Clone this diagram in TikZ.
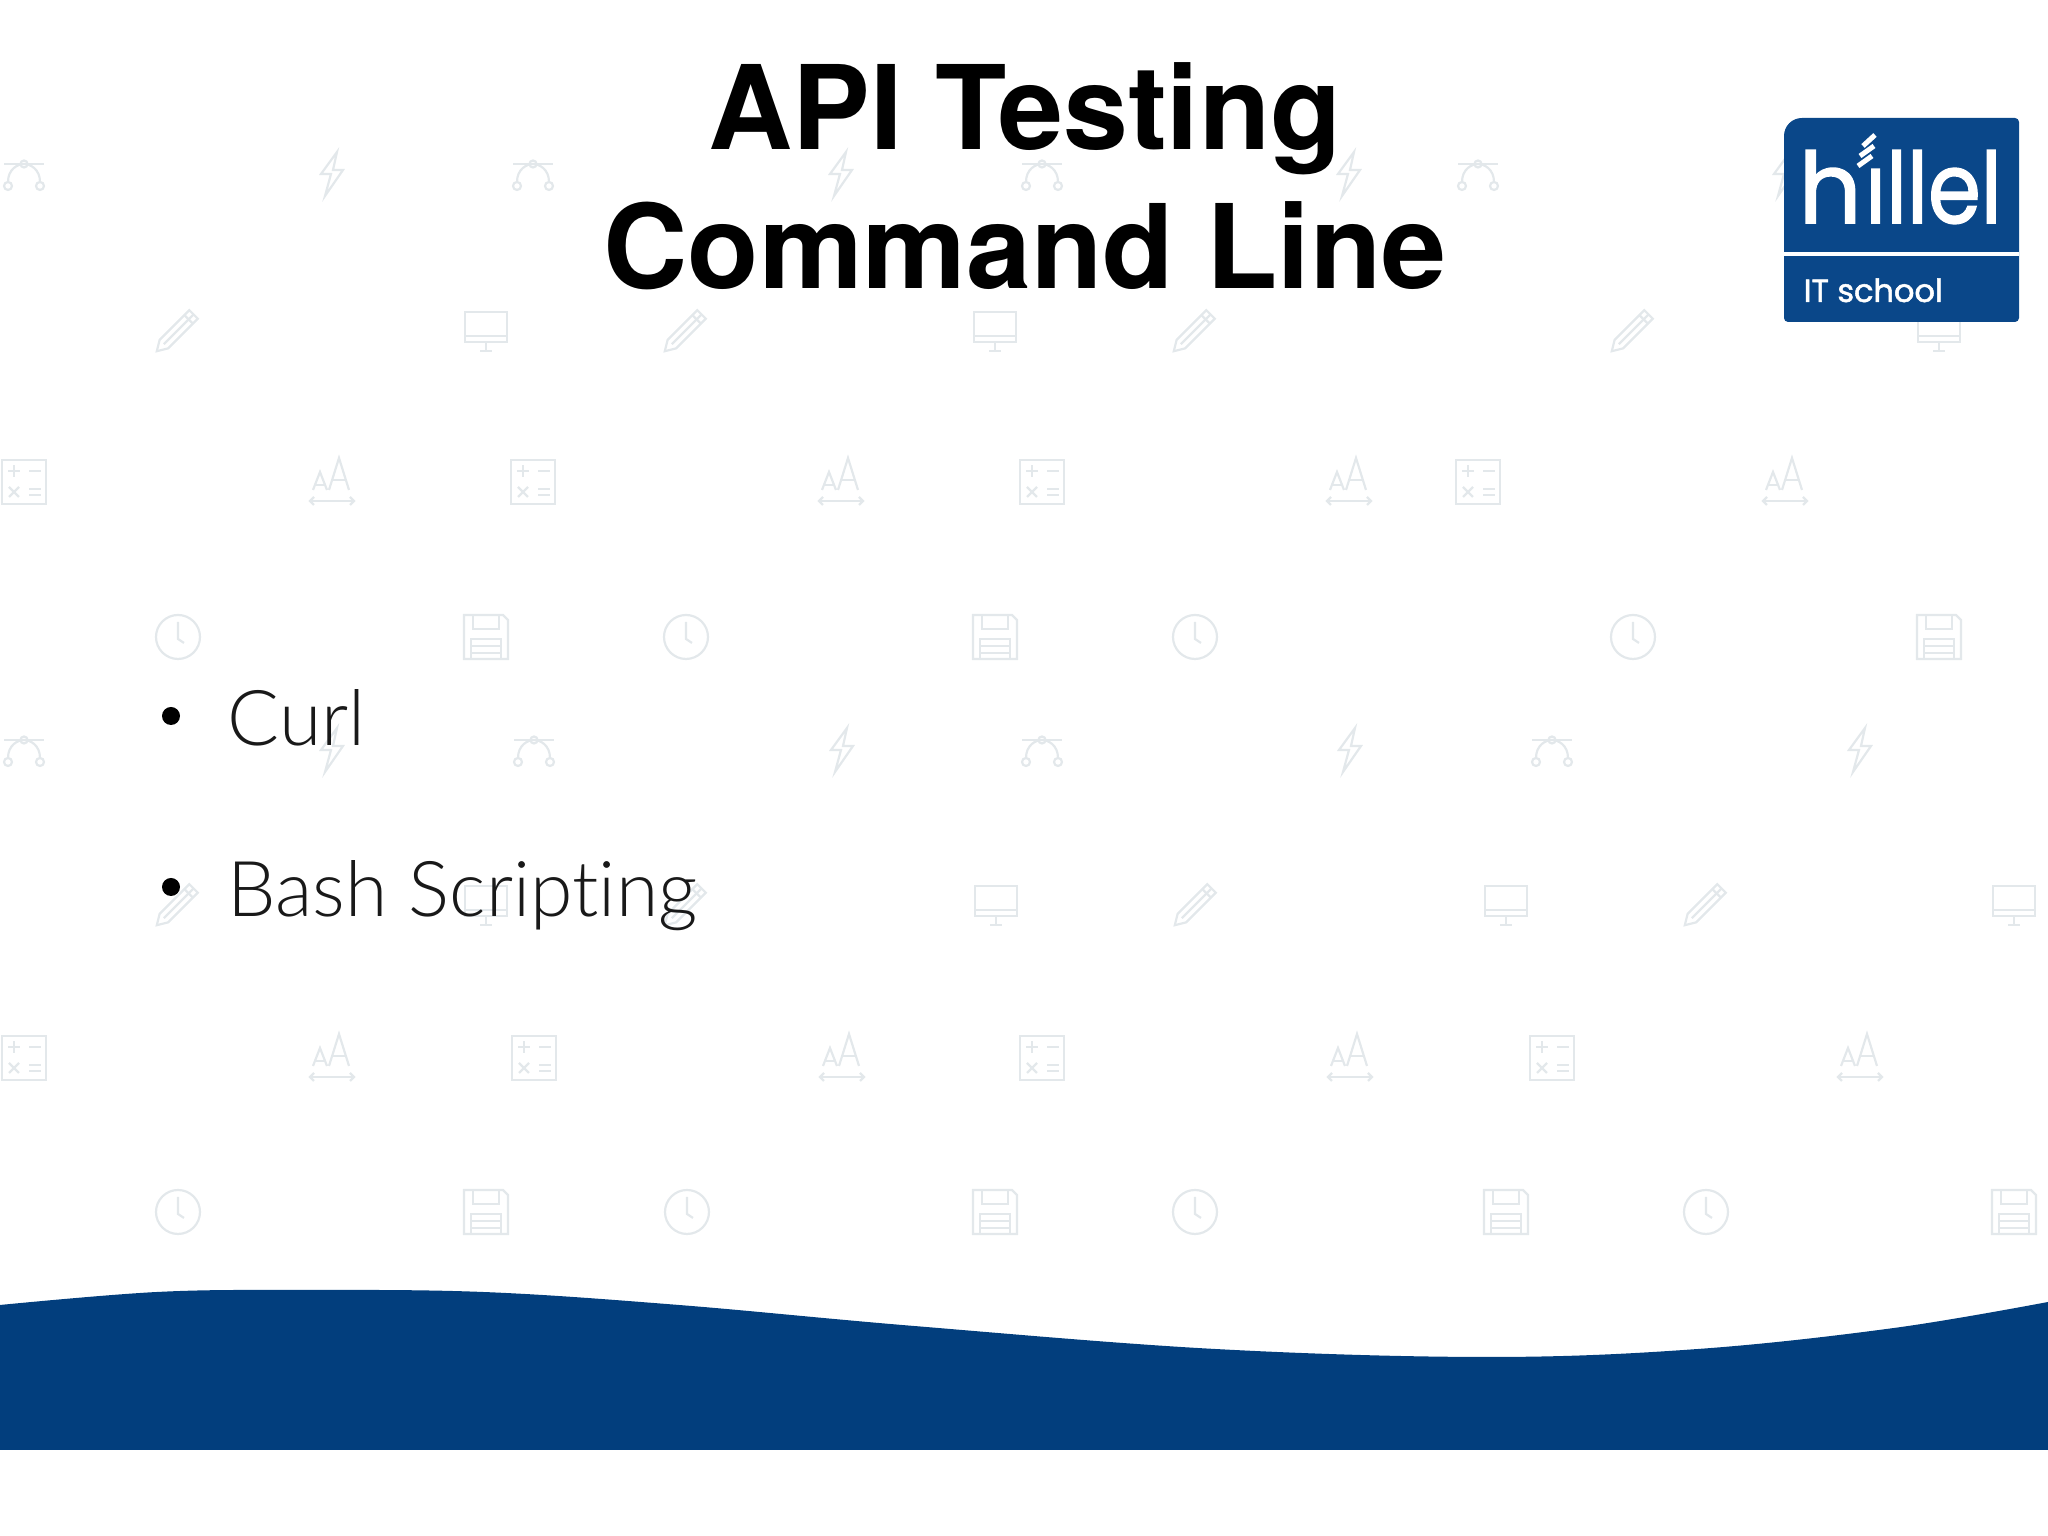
\documentclass[tikz,border=0pt]{standalone}
\usepackage{fontspec}
\setmainfont{TeX Gyre Heros}
\newfontfamily\bodyfont[Ligatures=CommonOff]{Lato Light}
\newfontfamily\logofont[FakeBold=1.6]{Poppins}
\usetikzlibrary{calc}
\definecolor{waveblue}{HTML}{023E7D}
\definecolor{logoblue}{HTML}{0A4789}
\definecolor{iconline}{HTML}{E3E8EB}
\tikzset{
	icon/.style={draw=iconline, line width=0.022cm},
	headline/.style={anchor=base, font=\fontsize{33.2}{36}\selectfont\bfseries},
	itemtext/.style={anchor=base west, inner sep=0pt, text=black!90, font=\fontsize{21.9}{26}\selectfont\bodyfont},
	itemdot/.style={circle, fill=black, inner sep=0pt, minimum size=0.18cm},
	logotext/.style={anchor=base west, inner sep=0pt, text=white},
	iconbezier/.pic={
		\draw[icon] (-0.2,0.1) -- (0.2,0.1);
		\draw[icon] (-0.16,-0.08) .. controls (-0.16,0.05) and (-0.06,0.1) .. (0,0.1) .. controls (0.06,0.1) and (0.16,0.05) .. (0.16,-0.08);
		\draw[icon] (0,0.1) circle (0.035);
		\draw[icon] (-0.16,-0.12) circle (0.04);
		\draw[icon] (0.16,-0.12) circle (0.04);
	},
	iconbolt/.pic={
		\draw[icon] (0.05,0.22) -- (-0.11,0) -- (-0.01,0) -- (-0.07,-0.22) -- (0.11,0.04) -- (0.01,0.04) -- cycle;
	},
	iconpencil/.pic={
		\begin{scope}[rotate=45]
			\draw[icon] (-0.2,-0.06) -- (0.22,-0.06) -- (0.22,0.06) -- (-0.2,0.06) -- (-0.3,0) -- cycle;
			\draw[icon] (-0.2,0) -- (0.22,0);
			\draw[icon] (0.15,-0.06) -- (0.15,0.06);
		\end{scope}
	},
	iconmonitor/.pic={
		\draw[icon] (-0.21,-0.12) rectangle (0.21,0.18);
		\draw[icon] (-0.21,-0.06) -- (0.21,-0.06);
		\draw[icon] (0,-0.12) -- (0,-0.2);
		\draw[icon] (-0.06,-0.21) -- (0.06,-0.21);
	},
	iconcalc/.pic={
		\draw[icon] (-0.22,-0.22) rectangle (0.22,0.22);
		\draw[icon] (-0.16,0.11) -- (-0.04,0.11);
		\draw[icon] (-0.1,0.05) -- (-0.1,0.17);
		\draw[icon] (0.05,0.11) -- (0.17,0.11);
		\draw[icon] (-0.15,-0.15) -- (-0.05,-0.05);
		\draw[icon] (-0.15,-0.05) -- (-0.05,-0.15);
		\draw[icon] (0.05,-0.07) -- (0.17,-0.07);
		\draw[icon] (0.05,-0.13) -- (0.17,-0.13);
	},
	iconfont/.pic={
		\draw[icon] (-0.03,-0.08) -- (0.07,0.24) -- (0.17,-0.08);
		\draw[icon] (0,0.02) -- (0.14,0.02);
		\draw[icon] (-0.19,-0.08) -- (-0.12,0.1) -- (-0.05,-0.08);
		\draw[icon] (-0.17,-0.03) -- (-0.07,-0.03);
		\draw[icon] (-0.22,-0.19) -- (0.22,-0.19);
		\draw[icon] (-0.18,-0.15) -- (-0.22,-0.19) -- (-0.18,-0.23);
		\draw[icon] (0.18,-0.15) -- (0.22,-0.19) -- (0.18,-0.23);
	},
	iconclock/.pic={
		\draw[icon] (0,0) circle (0.22);
		\draw[icon] (0,0.15) -- (0,-0.02) -- (0.06,-0.06);
	},
	iconfloppy/.pic={
		\draw[icon] (-0.22,-0.22) -- (0.22,-0.22) -- (0.22,0.17) -- (0.17,0.22) -- (-0.22,0.22) -- cycle;
		\draw[icon] (-0.13,0.22) -- (-0.13,0.08) -- (0.13,0.08) -- (0.13,0.22);
		\draw[icon] (-0.15,-0.22) -- (-0.15,-0.02) -- (0.15,-0.02) -- (0.15,-0.22);
		\draw[icon] (-0.15,-0.09) -- (0.15,-0.09);
		\draw[icon] (-0.15,-0.16) -- (0.15,-0.16);
	}
}
\begin{document}
\begin{tikzpicture}
	\useasboundingbox (0, 0) rectangle (20.48, 15.36);
	%%%%% BACKGROUND ICONS %%%%%
	\foreach \x/\y in {0.24/13.62, 5.33/13.62, 10.42/13.62, 14.78/13.62, 0.24/7.86, 5.34/7.86, 10.42/7.86, 15.52/7.86}
		\pic at (\x, \y) {iconbezier};
	\foreach \x/\y in {3.32/13.62, 8.41/13.62, 13.49/13.62, 17.85/13.62, 3.32/7.86, 8.42/7.86, 13.5/7.86, 18.6/7.86}
		\pic at (\x, \y) {iconbolt};
	\foreach \x/\y in {1.78/12.06, 6.86/12.06, 11.95/12.06, 16.33/12.06, 1.78/6.32, 6.86/6.32, 11.96/6.32, 17.06/6.32}
		\pic at (\x, \y) {iconpencil};
	\foreach \x/\y in {4.86/12.06, 9.95/12.06, 19.39/12.06, 4.86/6.32, 9.96/6.32, 15.06/6.32, 20.14/6.32}
		\pic at (\x, \y) {iconmonitor};
	\foreach \x/\y in {0.24/10.54, 5.33/10.54, 10.42/10.54, 14.78/10.54, 0.24/4.78, 5.34/4.78, 10.42/4.78, 15.52/4.78}
		\pic at (\x, \y) {iconcalc};
	\foreach \x/\y in {3.32/10.54, 8.41/10.54, 13.49/10.54, 17.85/10.54, 3.32/4.78, 8.42/4.78, 13.5/4.78, 18.6/4.78}
		\pic at (\x, \y) {iconfont};
	\foreach \x/\y in {1.78/8.99, 6.86/8.99, 11.95/8.99, 16.33/8.99, 1.78/3.24, 6.87/3.24, 11.95/3.24, 17.06/3.24}
		\pic at (\x, \y) {iconclock};
	\foreach \x/\y in {4.86/8.99, 9.95/8.99, 19.39/8.99, 4.86/3.24, 9.95/3.24, 15.06/3.24, 20.14/3.24}
		\pic at (\x, \y) {iconfloppy};

	%%%%% WAVE %%%%%
	\fill[waveblue] (0, 0.86) -- plot[smooth, tension=0.6] coordinates {(0, 2.31) (1.57, 2.44) (3, 2.46) (4.83, 2.44) (6.79, 2.31) (9.14, 2.1) (12.15, 1.87) (14.89, 1.79) (16.98, 1.87) (18.94, 2.08) (20.48, 2.34)} -- (20.48, 0.86) -- cycle;

	%%%%% LOGO %%%%%
	\fill[logoblue, rounded corners=0.04cm] (17.84, 12.14) -- (20.19, 12.14) -- (20.19, 14.18) -- (18.06, 14.18) .. controls (17.92, 14.18) and (17.84, 14.1) .. (17.84, 13.96) -- cycle;
	\fill[white] (17.84, 12.8) rectangle (20.19, 12.84);
	\node[logotext, font=\fontsize{28}{30}\selectfont\logofont] (logoname) at (17.98, 13.13) {h\kern1pt\scalebox{0.865}[1]{illel}};
	\fill[logoblue] (18.52, 13.72) rectangle (18.84, 14.05);
	\draw[white, line width=0.05cm] (18.58, 13.7) -- (18.72, 13.8);
	\draw[white, line width=0.05cm] (18.6, 13.8) -- (18.74, 13.9);
	\draw[white, line width=0.05cm] (18.63, 13.9) -- (18.75, 14.01);
	\node[logotext, font=\fontsize{9.1}{11}\selectfont\logofont] (logosub) at (18.03, 12.34) {IT school};

	%%%%% TEXT %%%%%
	\node[headline] (titletop) at (10.25, 13.86) {API Testing};
	\node[headline] (titlebottom) at (10.25, 12.47) {Command Line};
	\node[itemdot] (dotcurl) at (1.71, 8.2) {};
	\node[itemtext] (itemcurl) at (2.27, 7.9) {Curl};
	\node[itemdot] (dotbash) at (1.71, 6.49) {};
	\node[itemtext] (itembash) at (2.27, 6.19) {Bash Scripting};
\end{tikzpicture}
\end{document}
